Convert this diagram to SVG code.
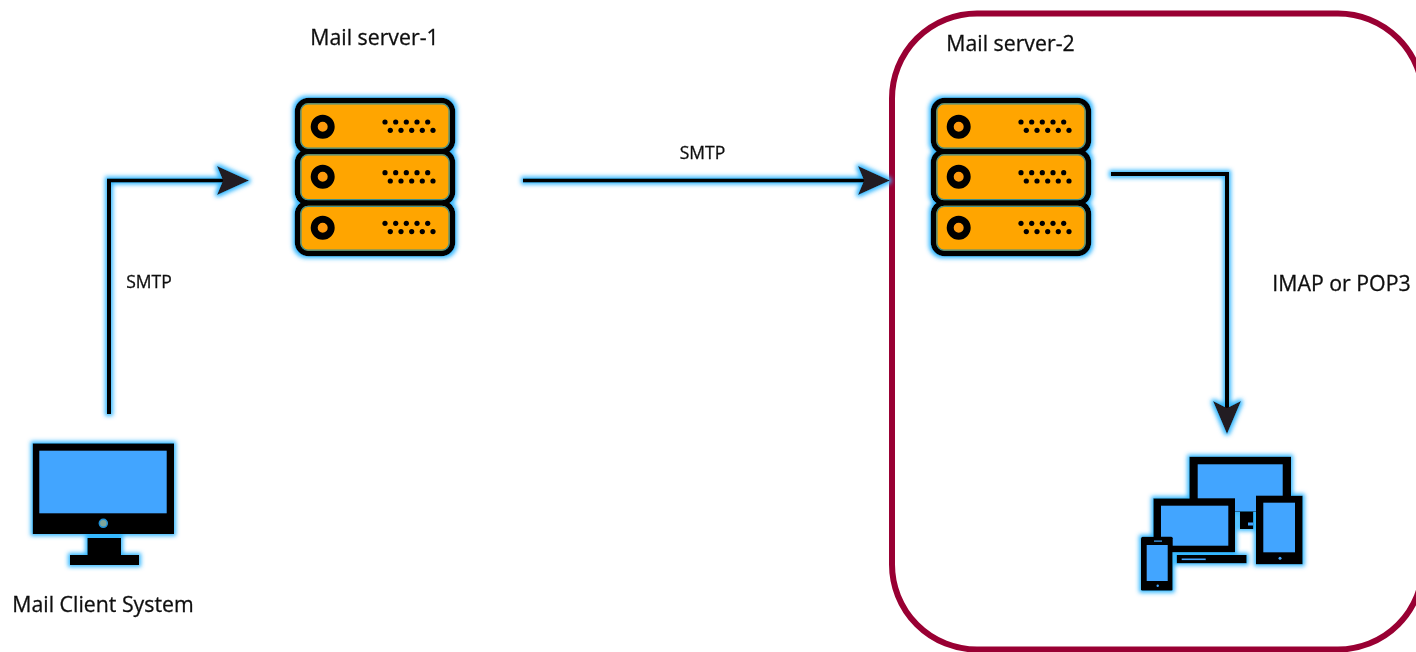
<svg xmlns="http://www.w3.org/2000/svg" width="1416" height="652" viewBox="0 0 1416 652">
<style>
.lbl{font-family:"Open Sans","Liberation Sans",sans-serif;fill:#111;stroke:#111;stroke-width:.3}
.s{font-size:17.500px}
.m{font-size:21.300px}
.row{fill:#ffa500;stroke:#000;stroke-width:5.500}
.edge{fill:none;stroke:#3f8f8c;stroke-width:1.300}
.ring{fill:#ff9a0a;stroke:#000;stroke-width:7}
.k{fill:#000}
.b{fill:#42a5ff}
.conn{fill:none;stroke:#000;stroke-width:4}
.head{fill:#231f20}
</style>
<defs>
<filter id="glow" x="-15%" y="-15%" width="130%" height="130%">
<feMorphology in="SourceAlpha" operator="dilate" radius="1.500" result="d"/>
<feGaussianBlur in="d" stdDeviation="2" result="bl"/>
<feFlood flood-color="#35b8ff"/>
<feComposite in2="bl" operator="in" result="c"/>
<feMerge result="m"><feMergeNode in="c"/><feMergeNode in="SourceGraphic"/></feMerge>
<feGaussianBlur in="m" stdDeviation="0.600"/>
</filter>
<filter id="soft" x="-5%" y="-20%" width="110%" height="140%">
<feGaussianBlur stdDeviation="0.450"/>
</filter>
<g id="dots" class="k">
<circle cx="385" cy="0" r="2.600"/><circle cx="395.700" cy="0" r="2.600"/><circle cx="406.300" cy="0" r="2.600"/><circle cx="417" cy="0" r="2.600"/><circle cx="427.700" cy="0" r="2.600"/>
<circle cx="390.300" cy="8.300" r="2.600"/><circle cx="401" cy="8.300" r="2.600"/><circle cx="411.700" cy="8.300" r="2.600"/><circle cx="422.300" cy="8.300" r="2.600"/><circle cx="433" cy="8.300" r="2.600"/>
</g>
<g id="server">
<g filter="url(#glow)">
<rect class="row" x="297.500" y="100.500" width="155" height="51" rx="11"/>
<rect class="row" x="297.500" y="151.500" width="155" height="51.500" rx="11"/>
<rect class="row" x="297.500" y="203" width="155" height="50.500" rx="11"/>
<rect class="edge" x="300.900" y="103.900" width="148.200" height="44.200" rx="7"/>
<rect class="edge" x="300.900" y="154.900" width="148.200" height="44.700" rx="7"/>
<rect class="edge" x="300.900" y="206.400" width="148.200" height="43.700" rx="7"/>
<circle class="ring" cx="322.700" cy="126.700" r="8.500"/>
<circle class="ring" cx="322.700" cy="176.700" r="8.500"/>
<circle class="ring" cx="322.700" cy="227.700" r="8.500"/>
<use href="#dots" y="122"/>
<use href="#dots" y="172.700"/>
<use href="#dots" y="223.300"/>
</g>
</g>
</defs>

<g id="zone-mail-server-2">
<rect x="892" y="13.500" width="531" height="636" rx="85" fill="none" stroke="#990033" stroke-width="6"/>
</g>

<g id="connectors">
<g filter="url(#glow)">
<path class="conn" d="M109 414V180.500H225"/>
<path class="head" d="M249 180.500L217 166L223 180.500L217 195Z"/>
<path class="conn" d="M523 180.500H868"/>
<path class="head" d="M890 180.500L858 166L864 180.500L858 195Z"/>
<path class="conn" d="M1111 174H1227V412"/>
<path class="head" d="M1227 434L1213 401L1227 408L1241 401Z"/>
</g>
</g>

<g id="mail-server-1"><use href="#server"/></g>
<g id="mail-server-2"><use href="#server" x="636"/></g>

<g id="mail-client" filter="url(#glow)">
<rect class="k" x="32.700" y="443.300" width="141.300" height="90.700"/>
<rect class="b" x="39.300" y="450.700" width="127.400" height="62.600"/>
<circle cx="103.300" cy="523.300" r="4" fill="#7fa69a" stroke="#1e90d8" stroke-width="1.500"/>
<rect class="k" x="87.300" y="538" width="33.700" height="18"/>
<rect class="k" x="70" y="555" width="69" height="10"/>
</g>

<g id="client-devices" filter="url(#glow)">
<rect class="k" x="1189.300" y="456.700" width="101.700" height="55"/>
<rect class="b" x="1197.700" y="464.300" width="85" height="47"/>
<path class="k" d="M1240 511.700H1253.300V529H1240Z"/>
<rect class="b" x="1248" y="522.500" width="5" height="3"/>
<rect class="k" x="1153.300" y="498.300" width="81.700" height="54"/>
<rect class="b" x="1161" y="505.700" width="67.300" height="40"/>
<rect class="k" x="1176.700" y="555" width="70" height="8.300"/>
<rect class="b" x="1181.700" y="558.500" width="24" height="1.600"/>
<rect class="k" x="1256" y="495.700" width="46.700" height="68.600"/>
<rect class="b" x="1263.300" y="502.700" width="31.700" height="49.600"/>
<circle class="b" cx="1280" cy="558.300" r="1.500"/>
<rect class="k" x="1141" y="536.700" width="31.700" height="54" rx="1.500"/>
<rect class="b" x="1146.700" y="545" width="21" height="36"/>
<rect class="b" x="1154" y="540.500" width="8" height="1.200"/>
<circle class="b" cx="1157.700" cy="585.700" r="1.200"/>
</g>

<g id="labels" filter="url(#soft)">
<text class="lbl m" x="374.500" y="44.500" text-anchor="middle">Mail server-1</text>
<text class="lbl m" x="1010.500" y="51" text-anchor="middle">Mail server-2</text>
<text class="lbl s" x="702.500" y="159" text-anchor="middle">SMTP</text>
<text class="lbl s" x="149" y="288" text-anchor="middle">SMTP</text>
<text class="lbl m" x="1341.500" y="291" text-anchor="middle">IMAP or POP3</text>
<text class="lbl m" x="103" y="611.500" text-anchor="middle">Mail Client System</text>
</g>
</svg>
